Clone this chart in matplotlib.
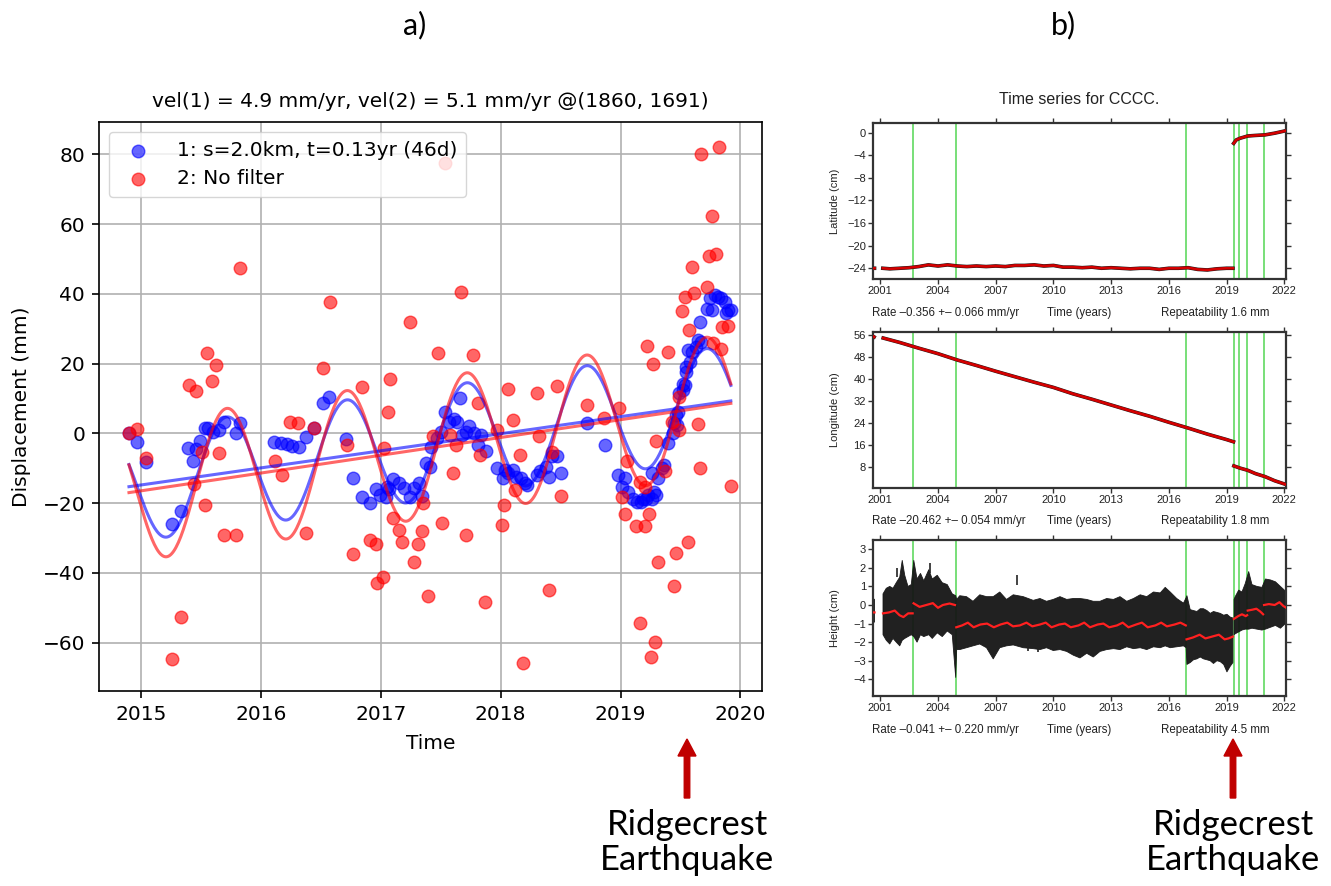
import numpy as np
import matplotlib
matplotlib.use("Agg")
import matplotlib.pyplot as plt
from matplotlib.patches import FancyArrow

nan = np.nan

# ---------------- Panel a data (decimal year, displacement mm) ----------------
blue_obs = [(2014.90, 0.0), (2014.97, -2.4), (2015.04, -8.1), (2015.26, -26.0), (2015.33, -22.2),
            (2015.39, -4.3), (2015.43, -7.9), (2015.46, -4.6), (2015.49, -2.2), (2015.53, 1.6),
            (2015.56, 1.6), (2015.60, 0.5), (2015.65, 0.9), (2015.69, 3.3), (2015.79, 0.0),
            (2015.83, 2.9), (2016.11, -2.4), (2016.17, -2.7), (2016.22, -3.1), (2016.26, -3.6),
            (2016.32, -3.8), (2016.38, -1.1), (2016.44, 1.4), (2016.52, 8.8), (2016.57, 10.5),
            (2016.71, -1.7), (2016.77, -12.7), (2016.84, -18.2), (2016.91, -20.1), (2016.96, -16.1),
            (2016.99, -17.7), (2017.04, -18.2), (2017.05, -15.3), (2017.07, -16.1), (2017.10, -13.2),
            (2017.15, -14.3), (2017.19, -15.6), (2017.24, -18.2), (2017.28, -15.6), (2017.32, -14.2),
            (2017.34, -18.0), (2017.38, -8.6), (2017.41, -9.6), (2017.42, -3.8), (2017.47, -1.4),
            (2017.50, 0.5), (2017.54, 6.2), (2017.57, 3.3), (2017.61, 4.0), (2017.64, 3.3),
            (2017.66, 10.0), (2017.68, -0.5), (2017.71, 0.5), (2017.74, 2.1), (2017.78, 0.0),
            (2017.81, -3.4), (2017.84, -0.5), (2017.88, -5.0), (2017.97, -10.0), (2018.02, -12.9),
            (2018.04, -10.5), (2018.06, -11.5), (2018.10, -10.5), (2018.13, -12.4), (2018.17, -12.9),
            (2018.20, -14.3), (2018.22, -14.8), (2018.30, -12.0), (2018.33, -10.7), (2018.38, -9.6),
            (2018.40, -12.4), (2018.43, -6.5), (2018.47, -6.5), (2018.50, -11.5), (2018.72, 3.0),
            (2018.87, -3.4), (2018.98, -12.0), (2019.01, -15.3), (2019.04, -12.9), (2019.06, -16.8),
            (2019.10, -18.7), (2019.14, -19.6), (2019.17, -19.6), (2019.19, -18.7), (2019.21, -18.7),
            (2019.23, -17.7), (2019.26, -18.7), (2019.28, -16.8), (2019.30, -17.7), (2019.26, -11.5),
            (2019.31, -12.9), (2019.35, -10.0), (2019.36, -9.1), (2019.40, -2.9), (2019.44, 0.0),
            (2019.45, 2.9), (2019.47, 2.4), (2019.46, 5.3), (2019.48, 6.2), (2019.49, 11.5),
            (2019.52, 12.4), (2019.52, 14.1), (2019.54, 13.9), (2019.55, 17.7), (2019.55, 19.1),
            (2019.58, 20.5), (2019.56, 23.9), (2019.60, 23.4), (2019.63, 24.9), (2019.65, 26.8),
            (2019.67, 26.3), (2019.66, 32.0), (2019.72, 35.6), (2019.76, 35.4), (2019.75, 38.7),
            (2019.79, 39.7), (2019.81, 39.2), (2019.84, 38.7), (2019.87, 37.8), (2019.88, 34.4),
            (2019.90, 35.4), (2019.92, 35.4)]

red_obs = [(2014.90, 0.0), (2014.97, 1.2), (2015.04, -7.0), (2015.26, -64.6), (2015.33, -52.8),
           (2015.40, 13.8), (2015.44, -14.6), (2015.46, 12.1), (2015.51, -5.3), (2015.53, -20.6),
           (2015.55, 23.0), (2015.59, 15.0), (2015.63, 19.6), (2015.65, -5.6), (2015.69, -29.2),
           (2015.79, -29.2), (2015.83, 47.5), (2016.12, -7.9), (2016.18, -12.0), (2016.24, 3.3),
           (2016.31, 2.9), (2016.38, -28.5), (2016.44, 1.4), (2016.52, 18.6), (2016.58, 37.8),
           (2016.72, -3.4), (2016.77, -34.6), (2016.84, 13.2), (2016.91, -30.6), (2016.96, -31.8),
           (2016.97, -42.9), (2017.02, -41.3), (2017.03, -4.3), (2017.06, 6.2), (2017.08, 15.6),
           (2017.10, -24.2), (2017.15, -27.7), (2017.18, -31.1), (2017.24, 31.8), (2017.28, -36.8),
           (2017.31, -31.8), (2017.34, -27.9), (2017.35, -20.1), (2017.39, -46.7), (2017.44, -0.8),
           (2017.48, 23.0), (2017.51, -25.6), (2017.54, 77.5), (2017.58, -0.5), (2017.60, -11.5),
           (2017.63, -3.2), (2017.67, 40.6), (2017.71, -29.2), (2017.77, 22.5), (2017.81, 8.8),
           (2017.83, -6.2), (2017.87, -48.3), (2017.97, 1.1), (2018.01, -26.3), (2018.03, -20.6),
           (2018.06, 12.8), (2018.10, 3.8), (2018.12, -16.3), (2018.16, -6.2), (2018.19, -66.0),
           (2018.30, 11.5), (2018.32, -0.8), (2018.40, -45.0), (2018.43, -5.3), (2018.47, 13.5),
           (2018.50, -18.0), (2018.72, 8.1), (2018.86, 4.3), (2018.99, 7.2), (2019.01, -18.4),
           (2019.04, -23.2), (2019.05, -7.9), (2019.13, -26.6), (2019.16, -13.9), (2019.16, -54.3),
           (2019.20, -26.6), (2019.20, -15.3), (2019.22, 25.0), (2019.24, -23.0), (2019.25, -64.1),
           (2019.27, 19.8), (2019.29, -59.8), (2019.30, -2.1), (2019.31, -37.0), (2019.37, -10.7),
           (2019.40, 23.3), (2019.43, 3.3), (2019.45, -43.7), (2019.46, -34.4), (2019.49, 10.5),
           (2019.49, 0.9), (2019.51, 35.2), (2019.54, 39.0), (2019.56, -31.1), (2019.57, 29.7),
           (2019.60, 47.8), (2019.61, 40.2), (2019.65, 2.7), (2019.66, -9.9), (2019.67, 80.1),
           (2019.72, 42.1), (2019.74, 50.9), (2019.76, 62.4), (2019.77, 26.0), (2019.80, 51.4),
           (2019.82, 82.0), (2019.84, 24.1), (2019.85, 30.6), (2019.90, 30.8), (2019.92, -15.1)]

series_labels = ["1: s=2.0km, t=0.13yr (46d)", "2: No filter"]
series_colors = ["blue", "red"]
# fitted model parameters (velocity from title, others)
fit_velocity = [4.9, 5.1]          # mm/yr
fit_start_value = [-15.3, -17.0]   # trend value at fit start (mm)
fit_amplitude = [16.0, 20.0]       # annual amplitude (mm)
fit_peak_phase = [0.715, 0.715]    # fraction of year at annual maximum
fit_span = [2014.90, 2019.92]

a_title = "vel(1) = 4.9 mm/yr, vel(2) = 5.1 mm/yr @(1860, 1691)"
a_xticks = [2015, 2016, 2017, 2018, 2019, 2020]
a_yticks = [-60, -40, -20, 0, 20, 40, 60, 80]

# ---------------- Panel b data (GNSS station CCCC) ----------------
b_xticks = [2001, 2004, 2007, 2010, 2013, 2016, 2019, 2022]
b_events = [2002.70, 2004.92, 2016.90, 2019.37, 2019.67, 2020.08, 2020.93]

lat_t = [2000.63, 2000.70, nan, 2001.13, 2001.5, 2002.0, 2002.5, 2003.0, 2003.5, 2004.0, 2004.5,
         2005.0, 2005.5, 2006.0, 2006.5, 2007.0, 2007.5, 2008.0, 2008.5, 2009.0, 2009.5, 2010.0,
         2010.5, 2011.0, 2011.5, 2012.0, 2012.5, 2013.0, 2013.5, 2014.0, 2014.5, 2015.0, 2015.5,
         2016.0, 2016.5, 2017.0, 2017.5, 2018.0, 2018.5, 2019.0, 2019.33, nan,
         2019.37, 2019.5, 2019.7, 2020.1, 2020.5, 2021.0, 2021.5, 2022.1]
lat_v = [-24.0, -24.0, nan, -24.0, -24.1, -24.0, -23.9, -23.7, -23.4, -23.6, -23.4,
         -23.6, -23.7, -23.6, -23.7, -23.6, -23.7, -23.5, -23.5, -23.4, -23.6, -23.5,
         -23.8, -23.8, -23.9, -23.8, -24.0, -23.9, -24.0, -24.1, -24.0, -24.0, -24.2,
         -24.0, -24.0, -23.9, -24.2, -24.3, -24.1, -24.0, -24.0, nan,
         -1.9, -1.3, -1.0, -0.6, -0.5, -0.4, -0.1, 0.35]

lon_t = [2000.63, 2000.68, nan, 2001.15, 2002.0, 2003.0, 2004.0, 2005.0, 2006.0, 2007.0, 2008.0,
         2009.0, 2010.0, 2011.0, 2012.0, 2013.0, 2014.0, 2015.0, 2016.0, 2017.0, 2018.0, 2019.0,
         2019.36, nan, 2019.38, 2019.7, 2020.1, 2020.5, 2021.0, 2021.5, 2022.1]
lon_v = [55.6, 55.4, nan, 55.0, 53.4, 51.3, 49.3, 47.0, 45.0, 42.9, 40.9,
         38.9, 37.0, 34.7, 32.7, 30.6, 28.5, 26.5, 24.3, 22.2, 20.0, 18.0,
         17.2, nan, 8.4, 7.6, 6.8, 5.6, 4.5, 3.0, 1.6]

hgt_model_t = [2000.62, 2000.70, nan,
               2001.14, 2001.45, 2001.75, 2002.0, 2002.2, 2002.45, 2002.68, nan,
               2002.73, 2003.04, 2003.39, 2003.73, 2004.0, 2004.25, 2004.6, 2004.88, nan,
               2004.95, 2005.25, 2005.55, 2005.85, 2006.2, 2006.55, 2006.9, 2007.25, 2007.6, 2007.9,
               2008.25, 2008.6, 2008.9, 2009.3, 2009.6, 2009.9, 2010.3, 2010.6, 2010.9, 2011.3,
               2011.6, 2011.9, 2012.3, 2012.6, 2012.9, 2013.3, 2013.6, 2013.9, 2014.3, 2014.6,
               2014.9, 2015.3, 2015.6, 2015.9, 2016.3, 2016.6, 2016.88, nan,
               2016.92, 2017.25, 2017.6, 2017.9, 2018.25, 2018.6, 2018.9, 2019.1, 2019.33, nan,
               2019.38, 2019.6, 2019.8, 2020.0, 2020.07, nan,
               2020.1, 2020.35, 2020.55, 2020.75, 2020.9, nan,
               2020.95, 2021.2, 2021.5, 2021.75, 2021.95, 2022.1]
hgt_model_v = [-0.4, -0.4, nan,
               -0.45, -0.40, -0.30, -0.55, -0.65, -0.45, -0.45, nan,
               0.09, -0.10, 0.0, 0.10, -0.15, 0.0, 0.08, 0.0, nan,
               -1.2, -1.1, -0.95, -1.2, -1.05, -1.0, -1.2, -1.05, -0.95, -1.15,
               -1.1, -0.95, -1.15, -1.05, -0.95, -1.2, -1.05, -1.0, -1.2, -1.1,
               -0.95, -1.2, -1.05, -1.0, -1.2, -1.1, -0.95, -1.2, -1.05, -0.95,
               -1.2, -1.1, -0.95, -1.15, -1.05, -0.95, -1.1, nan,
               -1.85, -1.75, -1.6, -1.8, -1.7, -1.6, -1.85, -1.8, -1.7, nan,
               -0.75, -0.6, -0.5, -0.6, -0.55, nan,
               -0.3, -0.25, -0.2, -0.35, -0.5, nan,
               0.0, 0.05, 0.0, 0.15, -0.05, -0.15]

hgt_env_t = [2000.62, 2000.70, nan,
             2001.14, 2001.31, 2001.49, 2001.66, 2001.83, 2002.01, 2002.14, 2002.27, 2002.44, 2002.61,
             2002.74, 2002.91, 2003.09, 2003.26, 2003.52, 2003.70, 2003.96, 2004.22, 2004.48, 2004.74,
             2004.92, 2004.97, 2005.13, 2005.48, 2005.82, 2006.17, 2006.52, 2006.87, 2007.21, 2007.56,
             2007.91, 2008.43, 2008.95, 2009.30, 2009.64, 2009.99, 2010.34, 2010.69, 2011.03, 2011.38,
             2011.73, 2012.07, 2012.42, 2012.77, 2013.12, 2013.46, 2013.81, 2014.16, 2014.51, 2014.85,
             2015.20, 2015.55, 2015.81, 2016.07, 2016.41, 2016.76, 2016.90,
             2016.94, 2017.11, 2017.28, 2017.46, 2017.63, 2017.80, 2017.98, 2018.15, 2018.32, 2018.50,
             2018.67, 2018.85, 2019.02, 2019.19, 2019.33, nan,
             2019.39, 2019.45, 2019.63, 2019.80, 2019.97, 2020.15, 2020.32, 2020.58, 2020.84, 2021.02,
             2021.28, 2021.54, 2021.80, 2022.06]
hgt_env_lo = [-1.0, -0.9, nan,
              -1.6, -1.9, -2.1, -1.8, -2.0, -2.2, -1.9, -1.8, -1.7, -1.6,
              -1.7, -2.0, -1.6, -1.7, -1.6, -1.8, -1.5, -1.7, -1.4, -1.6,
              -3.9, -2.4, -2.4, -2.3, -2.2, -2.1, -2.3, -2.9, -2.3, -2.2,
              -2.15, -2.3, -2.35, -2.4, -2.3, -2.45, -2.4, -2.5, -2.7, -2.85,
              -2.6, -2.8, -2.5, -2.4, -2.35, -2.4, -2.25, -2.35, -2.3, -2.4,
              -2.25, -2.3, -2.2, -2.3, -2.25, -2.2, -2.3,
              -3.2, -3.1, -2.95, -2.9, -2.8, -2.9, -2.95, -3.0, -3.15, -3.0,
              -3.05, -3.2, -3.6, -3.3, -3.1, nan,
              -1.6, -1.55, -1.45, -1.35, -1.3, -1.3, -1.25, -1.3, -1.35, -1.3,
              -1.2, -1.1, -1.25, -1.0]
hgt_env_hi = [0.35, 0.3, nan,
              0.6, 0.9, 1.0, 0.9, 1.2, 1.5, 2.4, 1.6, 1.0, 1.1,
              2.4, 1.4, 1.7, 1.3, 1.9, 1.4, 1.6, 1.2, 1.1, 0.6,
              0.5, 0.3, 0.5, 0.45, 0.2, 0.55, 0.45, 0.45, 0.7, 0.3,
              0.55, 0.45, 0.25, 0.35, 0.2, 0.3, 0.45, 0.3, 0.35, 0.35,
              0.3, 0.2, 0.2, 0.35, 0.3, 0.45, 0.2, 0.35, 0.55, 0.45,
              0.7, 0.65, 0.95, 0.7, 0.35, 0.1, 0.4,
              0.5, -0.25, -0.3, -0.35, -0.2, -0.2, -0.3, -0.45, -0.35, -0.4,
              -0.45, -0.55, -0.5, -0.65, -0.7, nan,
              0.3, 0.45, 0.8, 0.7, 1.15, 1.8, 1.1, 1.0, 0.95, 1.4,
              1.35, 1.25, 1.0, 0.75]
hgt_outlier_t = [2001.87, 2003.57, 2008.12, 2008.69, 2009.21]
hgt_outlier_lo = [1.5, 1.7, 1.08, -2.46, -2.51]
hgt_outlier_hi = [1.97, 2.24, 1.62, -2.10, -2.15]

b_rate_text = ["Rate \u20130.356 +\u2013 0.066 mm/yr", "Rate \u201320.462 +\u2013 0.054 mm/yr",
               "Rate \u20130.041 +\u2013 0.220 mm/yr"]
b_repeat_text = ["Repeatability 1.6 mm", "Repeatability 1.8 mm", "Repeatability 4.5 mm"]
b_ylabels = ["Latitude (cm)", "Longitude (cm)", "Height (cm)"]

# ---------------- figure ----------------
W, H = 1331, 886
fig = plt.figure(figsize=(W / 100, H / 100), dpi=100)
fig.patch.set_facecolor("white")


def box(l, t, r, b):
    return [l / W, 1 - b / H, (r - l) / W, (b - t) / H]


def ftext(x, y, s, **kw):
    fig.text(x / W, 1 - y / H, s, **kw)


# ---- panel a ----
FS = 14.5
ax = fig.add_axes(box(99, 122, 762, 691))
for obs, col, lab in zip([blue_obs, red_obs], series_colors, series_labels):
    t = [p[0] for p in obs]
    d = [p[1] for p in obs]
    ax.scatter(t, d, s=82, color=col, alpha=0.6, linewidths=1.0, label=lab, zorder=2)

tt = np.linspace(fit_span[0], fit_span[1], 500)
for i, col in enumerate(series_colors):
    trend = fit_start_value[i] + fit_velocity[i] * (tt - fit_span[0])
    seas = fit_amplitude[i] * np.cos(2 * np.pi * (tt - fit_peak_phase[i]))
    ax.plot(tt, trend, color=col, alpha=0.6, lw=2.2, zorder=3)
    ax.plot(tt, trend + seas, color=col, alpha=0.6, lw=2.2, zorder=3)

ax.set_xlim(2014.65, 2020.18)
ax.set_ylim(-73.9, 89.3)
ax.set_xticks(a_xticks)
ax.set_xticklabels([str(v) for v in a_xticks])
ax.set_yticks(a_yticks)
ax.tick_params(labelsize=FS, length=5, width=1.2, pad=5)
ax.grid(True, color="#b0b0b0", lw=1.2)
ax.set_axisbelow(True)
for sp in ax.spines.values():
    sp.set_linewidth(1.2)
ax.set_title(a_title, fontsize=FS, pad=11)
ax.set_xlabel("Time", fontsize=FS, labelpad=7)
ax.set_ylabel("Displacement (mm)", fontsize=FS, labelpad=8)
leg = ax.legend(loc="upper left", fontsize=FS, handletextpad=0.9, borderpad=0.45,
                labelspacing=0.45, framealpha=0.8)

# ---- panel b ----
BF = "Liberation Sans"
b_boxes = [box(873, 123, 1286, 279), box(873, 332, 1286, 488), box(873, 540, 1286, 696)]
b_ylims = [(-25.9, 1.7), (0.35, 57.2), (-4.9, 3.5)]
b_yticks = [[0, -4, -8, -12, -16, -20, -24], [8, 16, 24, 32, 40, 48, 56],
            [-4, -3, -2, -1, 0, 1, 2, 3]]
b_text_y = [313, 521, 730]
b_axes = []
for k in range(3):
    bx = fig.add_axes(b_boxes[k])
    b_axes.append(bx)
    bx.set_xlim(2000.62, 2022.09)
    bx.set_ylim(*b_ylims[k])
    bx.set_xticks(b_xticks)
    bx.set_xticklabels([str(v) for v in b_xticks])
    bx.set_yticks(b_yticks[k])
    bx.set_yticklabels([f"{v}".replace("-", "\u2212") for v in b_yticks[k]])
    bx.tick_params(direction="out", top=True, right=True, length=3.5, width=1.0,
                   labelsize=8, pad=1.5, colors="#333333", labelcolor="#222222")
    for lab in bx.get_xticklabels() + bx.get_yticklabels():
        lab.set_fontfamily(BF)
    for sp in bx.spines.values():
        sp.set_linewidth(1.6)
        sp.set_color("#333333")
    for ev in b_events:
        bx.axvline(ev, color="#6ddc6d", lw=1.3, zorder=1)
    cy = (b_boxes[k][1] + b_boxes[k][3] / 2)
    fig.text(835 / W, cy, b_ylabels[k], rotation=90, ha="center", va="center",
             fontsize=8, family=BF, color="#222222")
    ftext(872, b_text_y[k], b_rate_text[k], ha="left", va="center", fontsize=8.3,
          family=BF, color="#222222")
    ftext(1079, b_text_y[k], "Time (years)", ha="center", va="center", fontsize=8.3,
          family=BF, color="#222222")
    ftext(1215, b_text_y[k], b_repeat_text[k], ha="center", va="center", fontsize=8.3,
          family=BF, color="#222222")

# latitude
b_axes[0].plot(lat_t, lat_v, color="#1a1a1a", lw=2.6, zorder=2)
b_axes[0].plot(lat_t, lat_v, color="#d40000", lw=1.9, zorder=3)
# longitude
b_axes[1].plot(lon_t, lon_v, color="#1a1a1a", lw=2.6, zorder=2)
b_axes[1].plot(lon_t, lon_v, color="#d40000", lw=2.0, zorder=3)
# height
b_axes[2].fill_between(hgt_env_t, hgt_env_lo, hgt_env_hi, color="#151515", lw=0.6,
                       edgecolor="#151515", alpha=0.95, zorder=2)
b_axes[2].vlines(hgt_outlier_t, hgt_outlier_lo, hgt_outlier_hi, color="#222222", lw=1.2, zorder=2)
b_axes[2].plot(hgt_model_t, hgt_model_v, color="#ff2020", lw=1.6, zorder=3)

ftext(1079, 100, "Time series for CCCC.", ha="center", va="center", fontsize=11.5,
      family=BF, color="#222222")

# ---- figure annotations ----
ftext(415, 25, "a)", ha="center", va="center", fontsize=22, family="Lato")
ftext(1063, 25, "b)", ha="center", va="center", fontsize=22, family="Lato")
for xc in [687, 1233]:
    arr = FancyArrow(xc / 100, (H - 798) / 100, 0, (798 - 739) / 100, width=0.055,
                     head_width=0.18, head_length=0.17, length_includes_head=True,
                     color="#c00000", transform=fig.dpi_scale_trans)
    fig.add_artist(arr)
    ftext(xc, 825, "Ridgecrest", ha="center", va="center", fontsize=25, family="Lato")
    ftext(xc, 860, "Earthquake", ha="center", va="center", fontsize=25, family="Lato")

fig.savefig("out.png", dpi=100)
